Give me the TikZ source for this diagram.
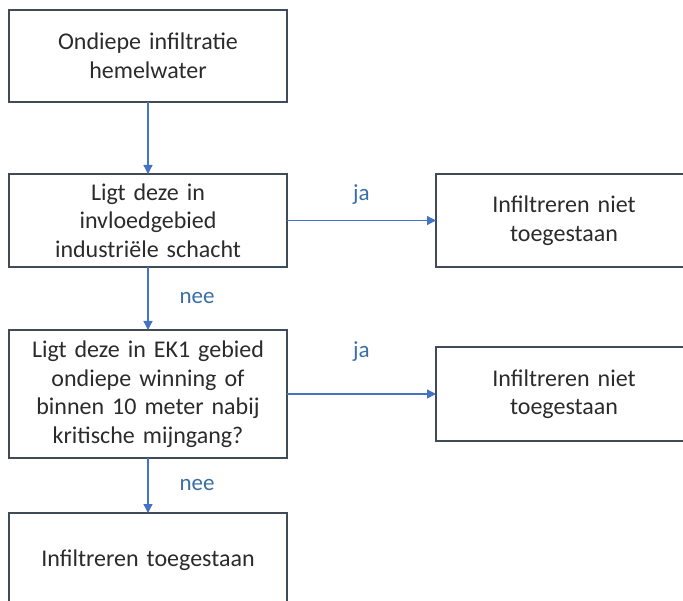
\documentclass[tikz,border=0pt]{standalone}
\usepackage{fontspec}
\setmainfont{Carlito}
\usepackage{xcolor}
\usetikzlibrary{arrows.meta,positioning}
\definecolor{flowblue}{HTML}{4472C4}
\definecolor{labelblue}{HTML}{3A6EA5}
\definecolor{boxline}{HTML}{404B58}
\definecolor{boxtext}{HTML}{2B2B2B}
\tikzset{
  every picture/.style = {
    >={Triangle[length=9pt,width=9pt]},
    node distance = 60pt and 149pt,
  }
  ,
  stepbox/.style = {
    rectangle,
    draw = boxline,
    line width = 1.6pt,
    outer sep = 0pt,
    text = boxtext,
    font = \fontsize{24}{28.5}\selectfont,
    align = center,
    text width = 250pt,
    minimum width = 278pt,
    minimum height = 93pt
  }
  , % right hand boxes
  stopbox/.style = {
    stepbox,
    text width = 230pt,
    minimum width = 256pt
  }
  , % blue arrows
  flow/.style = {
    ->,
    draw = flowblue,
    line width = 1.3pt
  }
  , % labels of edges
  label-edge/.style = {
    font = \fontsize{23}{27}\selectfont,
    text = labelblue
  }
}
\begin{document}
\begin{tikzpicture}[x=1pt,y=-1pt]
\useasboundingbox (0,0) rectangle (683,601);
\node [stepbox, minimum height=92pt] (start) at (148,56) {Ondiepe infiltratie\\hemelwater};
\node [stepbox, below = 72pt of start] (q1) {Ligt deze in\\invloedgebied\\industriële schacht};
\node [stopbox, right = 149pt of q1] (stop1) {Infiltreren niet\\toegestaan};
\node [stepbox, minimum height=128pt, below = 63pt of q1] (q2) {Ligt deze in EK1 gebied\\ondiepe winning of\\binnen 10 meter nabij\\kritische mijngang?};
\node [stopbox, minimum height=94pt, right = 149pt of q2] (stop2) {Infiltreren niet\\toegestaan};
\node [stepbox, minimum height=95pt, below = 55pt of q2] (ok) {Infiltreren toegestaan};

\path (start) edge[flow] (q1);
\path (q1) edge[flow] node [label-edge, yshift=26pt] {ja} (stop1);
\path (q1) edge[flow] node [label-edge, xshift=49pt] {nee} (q2);
\path (q2) edge[flow] node [label-edge, yshift=42pt] {ja} (stop2);
\path (q2) edge[flow] node [label-edge, xshift=49pt] {nee} (ok);
\end{tikzpicture}
\end{document}
